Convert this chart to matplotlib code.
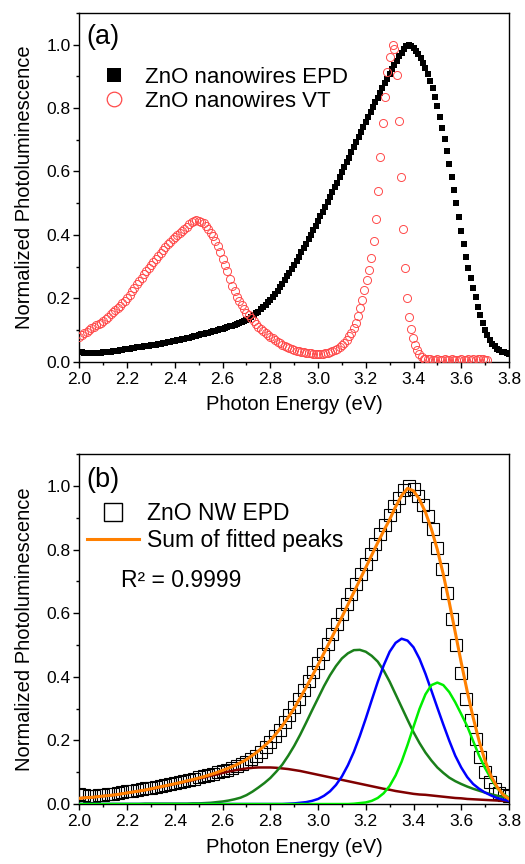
import numpy as np
import matplotlib
matplotlib.use("Agg")
import matplotlib.pyplot as plt
from matplotlib.lines import Line2D
from matplotlib.ticker import MultipleLocator

plt.rcParams['font.family'] = ['Liberation Sans', 'DejaVu Sans']

# ---- data (photon energy in eV) ----
# ZnO nanowires EPD, sampled every 0.01 eV from 2.00 to 3.80
epd_e = np.round(np.arange(2.00, 3.805, 0.01), 2)
epd = [
    0.030, 0.029, 0.028, 0.027, 0.026, 0.026, 0.026, 0.026, 0.027, 0.028,
    0.029, 0.030, 0.031, 0.032, 0.033, 0.034, 0.035, 0.036, 0.038, 0.039,
    0.040, 0.041, 0.042, 0.044, 0.045, 0.046, 0.047, 0.048, 0.050, 0.051,
    0.052, 0.053, 0.054, 0.056, 0.057, 0.058, 0.059, 0.061, 0.062, 0.064,
    0.065, 0.067, 0.069, 0.070, 0.072, 0.074, 0.076, 0.078, 0.080, 0.082,
    0.084, 0.086, 0.088, 0.090, 0.092, 0.094, 0.096, 0.098, 0.100, 0.102,
    0.104, 0.106, 0.108, 0.111, 0.113, 0.116, 0.119, 0.122, 0.125, 0.128,
    0.132, 0.136, 0.141, 0.146, 0.152, 0.158, 0.165, 0.172, 0.179, 0.187,
    0.196, 0.205, 0.215, 0.224, 0.234, 0.245, 0.257, 0.269, 0.281, 0.293,
    0.305, 0.318, 0.331, 0.345, 0.358, 0.372, 0.386, 0.400, 0.414, 0.429,
    0.443, 0.458, 0.473, 0.488, 0.503, 0.518, 0.534, 0.550, 0.565, 0.581,
    0.597, 0.613, 0.629, 0.644, 0.660, 0.676, 0.692, 0.708, 0.724, 0.739,
    0.755, 0.771, 0.787, 0.802, 0.818, 0.833, 0.848, 0.863, 0.878, 0.893,
    0.908, 0.922, 0.936, 0.950, 0.963, 0.975, 0.987, 0.996, 1.000, 0.997,
    0.990, 0.981, 0.970, 0.957, 0.942, 0.925, 0.906, 0.886, 0.864, 0.836,
    0.806, 0.773, 0.738, 0.702, 0.665, 0.625, 0.583, 0.541, 0.499, 0.456,
    0.413, 0.371, 0.331, 0.296, 0.263, 0.232, 0.203, 0.174, 0.147, 0.122,
    0.100, 0.083, 0.068, 0.057, 0.048, 0.041, 0.036, 0.032, 0.029, 0.026,
    0.024,
]

# ZnO nanowires VT
vt_e = list(np.round(np.arange(2.00, 3.165, 0.01), 2)) + [
    3.168, 3.176, 3.185, 3.194, 3.203, 3.212, 3.222, 3.234, 3.243, 3.252,
    3.261, 3.271, 3.281, 3.290, 3.300, 3.313, 3.320, 3.329, 3.339, 3.348,
    3.356, 3.364, 3.374, 3.382, 3.390, 3.398, 3.406, 3.415, 3.424, 3.434,
    3.444,
] + list(np.round(np.arange(3.45, 3.715, 0.01), 2))
vt = [
    0.079, 0.085, 0.090, 0.095, 0.100, 0.105, 0.110, 0.115, 0.118, 0.122,
    0.127, 0.134, 0.142, 0.150, 0.156, 0.162, 0.169, 0.176, 0.184, 0.192,
    0.200, 0.211, 0.222, 0.233, 0.244, 0.255, 0.265, 0.275, 0.285, 0.295,
    0.305, 0.315, 0.324, 0.334, 0.343, 0.352, 0.362, 0.372, 0.379, 0.386,
    0.392, 0.399, 0.406, 0.412, 0.418, 0.425, 0.433, 0.440, 0.444, 0.446,
    0.444, 0.441, 0.436, 0.428, 0.418, 0.407, 0.395, 0.381, 0.365, 0.346,
    0.325, 0.305, 0.285, 0.262, 0.240, 0.222, 0.205, 0.191, 0.178, 0.166,
    0.155, 0.146, 0.138, 0.128, 0.119, 0.110, 0.104, 0.097, 0.091, 0.085,
    0.079, 0.074, 0.068, 0.063, 0.058, 0.053, 0.050, 0.046, 0.043, 0.040,
    0.037, 0.035, 0.033, 0.031, 0.029, 0.028, 0.027, 0.026, 0.025, 0.024,
    0.024, 0.024, 0.025, 0.026, 0.028, 0.030, 0.033, 0.037, 0.041, 0.046,
    0.052, 0.060, 0.069, 0.080, 0.092, 0.105, 0.122,
    0.145, 0.168, 0.195, 0.226, 0.257, 0.289, 0.326, 0.381, 0.450, 0.537,
    0.646, 0.753, 0.834, 0.914, 0.960, 0.998, 0.987, 0.903, 0.760, 0.582,
    0.419, 0.294, 0.200, 0.142, 0.102, 0.075, 0.053, 0.037, 0.024, 0.015,
    0.010,
    0.008, 0.007, 0.007, 0.006, 0.006, 0.007, 0.006, 0.006, 0.007, 0.006,
    0.006, 0.007, 0.006, 0.006, 0.006, 0.007, 0.006, 0.006, 0.007, 0.006,
    0.008, 0.006, 0.007, 0.009, 0.007, 0.005, 0.004,
]

# fitted peaks, sampled every 0.025 eV from 2.000 to 3.800
fit_e = np.round(np.arange(2.0, 3.8001, 0.025), 3)
fit_sum = [
    0.018, 0.020, 0.021, 0.023, 0.025, 0.027, 0.029, 0.032, 0.035, 0.038,
    0.041, 0.044, 0.048, 0.052, 0.056, 0.060, 0.064, 0.068, 0.073, 0.077,
    0.082, 0.087, 0.093, 0.099, 0.106, 0.113, 0.121, 0.130, 0.140, 0.153,
    0.167, 0.183, 0.200, 0.222, 0.246, 0.273, 0.301, 0.334, 0.367, 0.402,
    0.438, 0.475, 0.512, 0.550, 0.588, 0.627, 0.666, 0.705, 0.744, 0.783,
    0.822, 0.859, 0.895, 0.935, 0.970, 0.993, 0.985, 0.958, 0.918, 0.865,
    0.800, 0.722, 0.634, 0.540, 0.445, 0.355, 0.272, 0.198, 0.136, 0.088,
    0.054, 0.030, 0.016,
]
peak_1 = [  # dark red
    0.018, 0.020, 0.021, 0.023, 0.025, 0.027, 0.029, 0.032, 0.035, 0.038,
    0.041, 0.044, 0.047, 0.051, 0.055, 0.059, 0.063, 0.067, 0.071, 0.075,
    0.080, 0.084, 0.089, 0.093, 0.098, 0.102, 0.106, 0.109, 0.112, 0.114,
    0.115, 0.115, 0.115, 0.114, 0.112, 0.110, 0.107, 0.104, 0.100, 0.096,
    0.092, 0.088, 0.084, 0.080, 0.076, 0.072, 0.068, 0.064, 0.060, 0.056,
    0.052, 0.048, 0.045, 0.041, 0.038, 0.035, 0.032, 0.030, 0.029, 0.027,
    0.025, 0.023, 0.021, 0.019, 0.018, 0.016, 0.015, 0.014, 0.013, 0.012,
    0.011, 0.010, 0.010,
]
peak_2 = [  # dark green
    0.000, 0.000, 0.000, 0.000, 0.000, 0.000, 0.000, 0.000, 0.000, 0.000,
    0.000, 0.001, 0.001, 0.001, 0.001, 0.001, 0.001, 0.001, 0.001, 0.002,
    0.002, 0.003, 0.004, 0.006, 0.008, 0.011, 0.015, 0.020, 0.028, 0.039,
    0.052, 0.066, 0.082, 0.102, 0.124, 0.152, 0.183, 0.218, 0.256, 0.295,
    0.333, 0.371, 0.405, 0.434, 0.458, 0.474, 0.484, 0.485, 0.479, 0.466,
    0.448, 0.420, 0.385, 0.345, 0.305, 0.265, 0.226, 0.192, 0.162, 0.137,
    0.115, 0.098, 0.083, 0.072, 0.063, 0.055, 0.048, 0.042, 0.036, 0.031,
    0.026, 0.022, 0.018,
]
peak_3 = [  # blue
    0.000, 0.000, 0.000, 0.000, 0.000, 0.000, 0.000, 0.000, 0.000, 0.000,
    0.000, 0.000, 0.000, 0.000, 0.000, 0.000, 0.000, 0.000, 0.000, 0.000,
    0.000, 0.000, 0.000, 0.000, 0.000, 0.000, 0.000, 0.000, 0.000, 0.000,
    0.000, 0.000, 0.000, 0.000, 0.000, 0.001, 0.002, 0.004, 0.006, 0.010,
    0.016, 0.026, 0.040, 0.060, 0.087, 0.122, 0.164, 0.214, 0.269, 0.327,
    0.384, 0.436, 0.479, 0.507, 0.520, 0.514, 0.493, 0.457, 0.410, 0.357,
    0.303, 0.250, 0.199, 0.152, 0.115, 0.085, 0.063, 0.048, 0.036, 0.027,
    0.019, 0.014, 0.010,
]
peak_4 = [  # bright green
    0.000, 0.000, 0.000, 0.000, 0.000, 0.000, 0.000, 0.000, 0.000, 0.000,
    0.000, 0.000, 0.000, 0.000, 0.000, 0.000, 0.000, 0.000, 0.000, 0.000,
    0.000, 0.000, 0.000, 0.000, 0.000, 0.000, 0.000, 0.000, 0.000, 0.000,
    0.000, 0.000, 0.000, 0.000, 0.000, 0.000, 0.000, 0.000, 0.000, 0.000,
    0.000, 0.000, 0.000, 0.000, 0.000, 0.000, 0.001, 0.003, 0.005, 0.010,
    0.019, 0.034, 0.057, 0.090, 0.133, 0.186, 0.243, 0.299, 0.345, 0.374,
    0.382, 0.374, 0.352, 0.320, 0.283, 0.245, 0.198, 0.152, 0.113, 0.080,
    0.050, 0.032, 0.020,
]

x_ticks = [2.0, 2.2, 2.4, 2.6, 2.8, 3.0, 3.2, 3.4, 3.6, 3.8]
y_ticks = [0.0, 0.2, 0.4, 0.6, 0.8, 1.0]


def style_axes(ax):
    ax.set_xlim(2.0, 3.8)
    ax.set_ylim(0.0, 1.1)
    ax.set_xticks(x_ticks)
    ax.set_yticks(y_ticks)
    ax.set_xticklabels([f"{t:.1f}" for t in x_ticks])
    ax.set_yticklabels([f"{t:.1f}" for t in y_ticks])
    ax.xaxis.set_minor_locator(MultipleLocator(0.1))
    ax.yaxis.set_minor_locator(MultipleLocator(0.1))
    ax.tick_params(which='both', direction='out', top=False, right=False,
                   width=1.0, labelsize=12.5)
    ax.tick_params(which='major', length=4)
    ax.tick_params(which='minor', length=2.5)
    ax.tick_params(axis='x', pad=3.5)
    ax.tick_params(axis='y', pad=2.5)
    for s in ax.spines.values():
        s.set_linewidth(1.0)
    ax.set_xlabel("Photon Energy (eV)", fontsize=14.5, labelpad=6)
    ax.set_ylabel("Normalized Photoluminescence", fontsize=14.5, labelpad=9)


fig = plt.figure(figsize=(5.25, 8.64), dpi=100)
ax1 = fig.add_axes([0.1514, 0.5814, 0.818, 0.4036])
ax2 = fig.add_axes([0.1514, 0.0694, 0.818, 0.4048])

# ---- (a) ----
red = '#ff4a4a'
ax1.plot(vt_e, vt, linestyle='none', marker='o', ms=5.8, mfc='none',
         mec=red, mew=0.7, zorder=3)
ax1.plot(epd_e, epd, linestyle='none', marker='s', ms=4.8, mfc='black',
         mec='black', mew=0.0, zorder=2)
style_axes(ax1)
ax1.text(0.015, 0.93, "(a)", transform=ax1.transAxes, fontsize=19.5,
         va='center', ha='left')
h_a = [
    Line2D([], [], linestyle='none', marker='s', ms=9.5, mfc='black',
           mec='black', mew=0),
    Line2D([], [], linestyle='none', marker='o', ms=10.5, mfc='none',
           mec=red, mew=0.9),
]
ax1.legend(h_a, ["ZnO nanowires EPD", "ZnO nanowires VT"], loc='upper left',
           bbox_to_anchor=(0.0214, 0.845), borderaxespad=0, borderpad=0,
           frameon=False, fontsize=16, handlelength=2.3, handletextpad=0.25,
           labelspacing=0.12)

# ---- (b) ----
ax2.plot(epd_e[::2], epd[::2], linestyle='none', marker='s', ms=8.5,
         mfc='none', mec='black', mew=0.8, zorder=2)
ax2.plot(fit_e, peak_1, color='#800000', lw=1.8, zorder=3)
ax2.plot(fit_e, peak_2, color='#1a801a', lw=1.8, zorder=3)
ax2.plot(fit_e, peak_3, color='#0000ff', lw=1.8, zorder=3)
ax2.plot(fit_e, peak_4, color='#00ee00', lw=1.8, zorder=3)
ax2.plot(fit_e, fit_sum, color='#ff8000', lw=2.2, zorder=4)
style_axes(ax2)
ax2.text(0.015, 0.9265, "(b)", transform=ax2.transAxes, fontsize=19.5,
         va='center', ha='left')
h_b = [
    Line2D([], [], linestyle='none', marker='s', ms=13, mfc='none',
           mec='black', mew=1.0),
    Line2D([], [], color='#ff8000', lw=2.2),
]
ax2.legend(h_b, ["ZnO NW EPD", "Sum of fitted peaks"], loc='upper left',
           bbox_to_anchor=(0.0168, 0.864), borderaxespad=0, borderpad=0,
           frameon=False, fontsize=16.5, handlelength=2.3, handletextpad=0.33,
           labelspacing=0.2)
ax2.text(0.097, 0.64, "R\u00b2 = 0.9999", transform=ax2.transAxes,
         fontsize=16.5, va='center', ha='left')

fig.savefig("out.png", dpi=100)
